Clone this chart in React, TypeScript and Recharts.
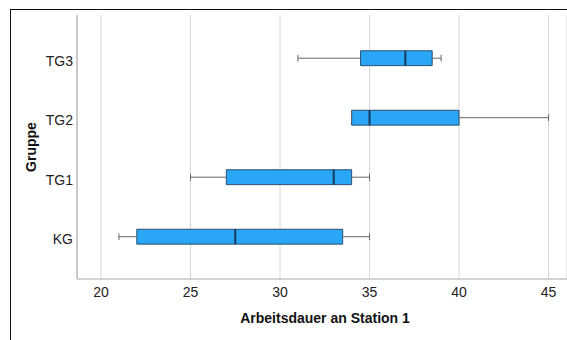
import { ComposedChart, Scatter, XAxis, YAxis, CartesianGrid, ReferenceArea, ReferenceLine } from 'recharts'

const groups = ['KG', 'TG1', 'TG2', 'TG3']
const mins = [21, 25, 34, 31]
const q1s = [22, 27, 34, 34.5]
const medians = [27.5, 33, 35, 37]
const q3s = [33.5, 34, 40, 38.5]
const maxs = [35, 35, 45, 39]
const xTicks = [20, 25, 30, 35, 40, 45]

const font = '"Liberation Sans", Arial, sans-serif'
const boxFill = '#2aa6f6'
const boxStroke = '#2d4f73'
const medianColor = '#163a60'
const whiskerColor = '#666666'
const BOX_HALF = 0.125
const CAP_HALF = 0.056

const medianData = medians.map((m, i) => ({ x: m, y: i }))

function MedianMark(props: any) {
  const { cx, cy } = props
  return <line x1={cx} x2={cx} y1={cy - 7.5} y2={cy + 7.5} stroke={medianColor} strokeWidth={2} />
}

function GruppeLabel() {
  return (
    <text x={36} y={147} transform="rotate(-90 36 147)" textAnchor="middle" fontFamily={font} fontSize={14} fontWeight="bold" fill="#111">
      Gruppe
    </text>
  )
}

function XLabel() {
  return (
    <text x={325} y={323} textAnchor="middle" fontFamily={font} fontSize={14} fontWeight="bold" fill="#111">
      Arbeitsdauer an Station 1
    </text>
  )
}

export default function App() {
  return (
    <div style={{ position: 'absolute', left: 0, top: 0, width: 567, height: 340, overflow: 'hidden', background: '#fff' }}>
      <div style={{ position: 'absolute', left: 10, top: 9, width: 640, height: 400, border: '1.5px solid #111' }} />
      <div style={{ position: 'absolute', left: 0, top: 0 }}>
        <ComposedChart width={567} height={340} margin={{ top: 15, right: 0, bottom: 21, left: 0 }}>
          <CartesianGrid horizontal={false} stroke="#d6d6d6" />
          <XAxis
            type="number"
            dataKey="x"
            domain={[18.66, 46.03]}
            allowDataOverflow
            ticks={xTicks}
            height={40}
            tickLine={false}
            axisLine={{ stroke: '#a8a8a8' }}
            tick={{ fill: '#222', fontSize: 14, fontFamily: font }}
            label={<XLabel />}
          />
          <YAxis
            type="number"
            dataKey="y"
            domain={[-0.711, 3.726]}
            allowDataOverflow
            ticks={[0, 1, 2, 3]}
            tickFormatter={(v: number) => groups[v] ?? ''}
            width={77}
            tickLine={false}
            tickSize={2}
            tickMargin={2}
            axisLine={{ stroke: '#a8a8a8' }}
            tick={{ fill: '#222', fontSize: 14, fontFamily: font, dy: 2.5 }}
            label={<GruppeLabel />}
          />
          {groups.map((g, i) => (
            <ReferenceLine key={`wl-${g}`} segment={[{ x: mins[i], y: i }, { x: q1s[i], y: i }]} stroke={whiskerColor} strokeWidth={1} />
          ))}
          {groups.map((g, i) => (
            <ReferenceLine key={`wh-${g}`} segment={[{ x: q3s[i], y: i }, { x: maxs[i], y: i }]} stroke={whiskerColor} strokeWidth={1} />
          ))}
          {groups.map((g, i) => (
            <ReferenceLine key={`cl-${g}`} segment={[{ x: mins[i], y: i - CAP_HALF }, { x: mins[i], y: i + CAP_HALF }]} stroke={whiskerColor} strokeWidth={1} />
          ))}
          {groups.map((g, i) => (
            <ReferenceLine key={`ch-${g}`} segment={[{ x: maxs[i], y: i - CAP_HALF }, { x: maxs[i], y: i + CAP_HALF }]} stroke={whiskerColor} strokeWidth={1} />
          ))}
          {groups.map((g, i) => (
            <ReferenceArea
              key={`box-${g}`}
              x1={q1s[i]}
              x2={q3s[i]}
              y1={i - BOX_HALF}
              y2={i + BOX_HALF}
              fill={boxFill}
              fillOpacity={1}
              stroke={boxStroke}
              strokeWidth={1}
            />
          ))}
          <Scatter data={medianData} shape={<MedianMark />} isAnimationActive={false} />
        </ComposedChart>
      </div>
    </div>
  )
}
